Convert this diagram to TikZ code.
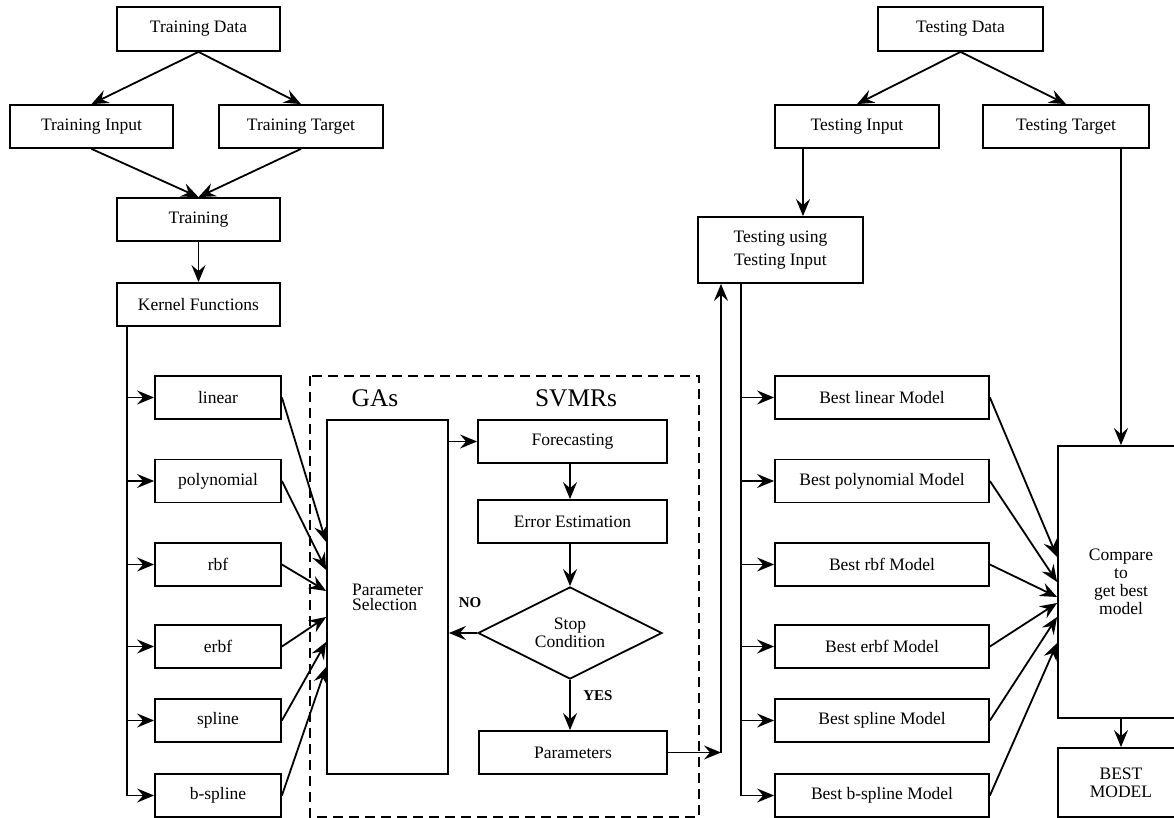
\documentclass[tikz,border=0pt]{standalone}
\usepackage{fontspec}
\setmainfont{Liberation Serif}
\usetikzlibrary{arrows.meta,shapes.geometric,calc}
\begin{document}
\begin{tikzpicture}[x=0.5pt,y=-0.5pt,
  box/.style={draw,line width=0.9pt,inner sep=1pt,align=center,font=\fontsize{8.75}{9}\selectfont},
  line/.style={line width=0.9pt},
  arr/.style={line width=0.9pt,-{Stealth[length=8.5pt,width=7pt,inset=3pt]}},
  lbl/.style={font=\fontsize{12.7}{14}\selectfont},
  yn/.style={font=\fontsize{7.5}{9}\selectfont\bfseries}]
\useasboundingbox (0,0) rectangle (1174,818);
% left top
\node[box,minimum width=81.5pt,minimum height=22pt] (td) at (198.5,29) {Training Data};
\node[box,minimum width=81.5pt,minimum height=21.5pt] (ti) at (91.5,126.5) {Training Input};
\node[box,minimum width=82pt,minimum height=21.5pt] (tt) at (301,126.5) {Training Target};
\node[box,minimum width=81.5pt,minimum height=21.5pt] (tr) at (198.5,219.5) {Training};
\node[box,minimum width=81.5pt,minimum height=21.5pt] (kf) at (198.5,304.5) {Kernel Functions};
\draw[arr] (td.south) -- (ti.north);
\draw[arr] (td.south) -- (tt.north);
\draw[arr] (ti.south) -- (tr.north);
\draw[arr] (tt.south) -- (tr.north);
\draw[arr] (tr.south) -- (kf.north);
% kernel boxes
\foreach \n/\t/\y in {k1/linear/397.5,k2/polynomial/481,k3/rbf/564.5,k4/erbf/646.5,k5/spline/720.5,k6/b-spline/795.5}{
  \node[box,minimum width=63pt,minimum height=21.5pt] (\n) at (218,\y) {\t};
}
\coordinate (ksp) at (127,326);
\draw[line] (ksp) -- (ksp |- k6.west);
\foreach \n in {k1,k2,k3,k4,k5,k6}{\draw[arr] (ksp |- \n.west) -- (\n.west);}
% dashed box
\draw[line width=0.9pt,dash pattern=on 5pt off 3pt] (310,376) rectangle (699,817);
\node[lbl] (gas) at (375,398) {GAs};
\node[lbl] (svm) at (576,398) {SVMRs};
\node[box,minimum width=60.5pt,minimum height=177pt,align=left,font=\fontsize{8.75}{7.6}\selectfont] (ps) at (387.5,597) {Parameter\\Selection};
\node[box,minimum width=94.5pt,minimum height=21.5pt] (fc) at (572.5,441.5) {Forecasting};
\node[box,minimum width=94.5pt,minimum height=21.5pt] (ee) at (572.5,521.5) {Error Estimation};
\node[box,shape=diamond,aspect=2,inner sep=0pt,minimum width=92pt,minimum height=46pt] (sc) at (570,633) {Stop\\Condition};
\node[box,minimum width=94pt,minimum height=21.5pt] (pa) at (573,752.5) {Parameters};
\foreach \n/\d in {k1/-55,k2/-27,k3/-6,k4/20,k5/45,k6/70}{\draw[arr] (\n.east) -- ($(ps.west)+(0,\d)$);}
\draw[arr] (ps.east |- fc.west) -- (fc.west);
\draw[arr] (fc.south -| sc.north) -- (ee.north -| sc.north);
\draw[arr] (ee.south -| sc.north) -- (sc.north);
\draw[arr] (sc.south) -- (sc.south |- pa.north);
\draw[arr] (sc.west) -- (ps.east |- sc.west);
\node[yn] (no) at (470,603) {NO};
\node[yn] (yes) at (598,696) {YES};
% right top
\node[box,minimum width=82.5pt,minimum height=22pt] (tsd) at (960.5,29) {Testing Data};
\node[box,minimum width=82pt,minimum height=21.5pt] (tsi) at (857,126.5) {Testing Input};
\node[box,minimum width=83pt,minimum height=21.5pt] (tst) at (1066,126.5) {Testing Target};
\node[box,minimum width=82.5pt,minimum height=33pt,font=\fontsize{8.75}{11.6}\selectfont] (tu) at (780.5,250) {Testing using\\Testing Input};
\draw[arr] (tsd.south) -- (tsi.north);
\draw[arr] (tsd.south) -- (tst.north);
\coordinate (tsx) at (803,148);
\draw[arr] (tsx) -- (tsx |- tu.north);
\coordinate (upc) at (721,752.5);
\draw[arr] (pa.east) -- (upc);
\draw[arr] (upc) -- (upc |- tu.south);
% best models
\foreach \n/\t/\y in {m1/linear/397.5,m2/polynomial/481,m3/rbf/564.5,m4/erbf/646.5,m5/spline/720.5,m6/b-spline/795.5}{
  \node[box,minimum width=107pt,minimum height=21.5pt] (\n) at (882,\y) {Best \t\ Model};
}
\coordinate (msp) at (741,283);
\draw[line] (msp) -- (msp |- m6.west);
\foreach \n in {m1,m2,m3,m4,m5,m6}{\draw[arr] (msp |- \n.west) -- (\n.west);}
\node[box,minimum width=63pt,minimum height=136pt] (cmp) at (1121,582) {Compare\\to\\get best\\model};
\node[box,minimum width=63pt,minimum height=34.5pt] (bm) at (1121,782.5) {BEST\\MODEL};
\draw[arr] (tst.south -| cmp.north) -- (cmp.north);
\draw[arr] (cmp.south) -- (bm.north);
\foreach \n/\d in {m1/-25,m2/0,m3/15,m4/21,m5/35,m6/61}{\draw[arr] (\n.east) -- ($(cmp.west)+(0,\d)$);}
\end{tikzpicture}
\end{document}
